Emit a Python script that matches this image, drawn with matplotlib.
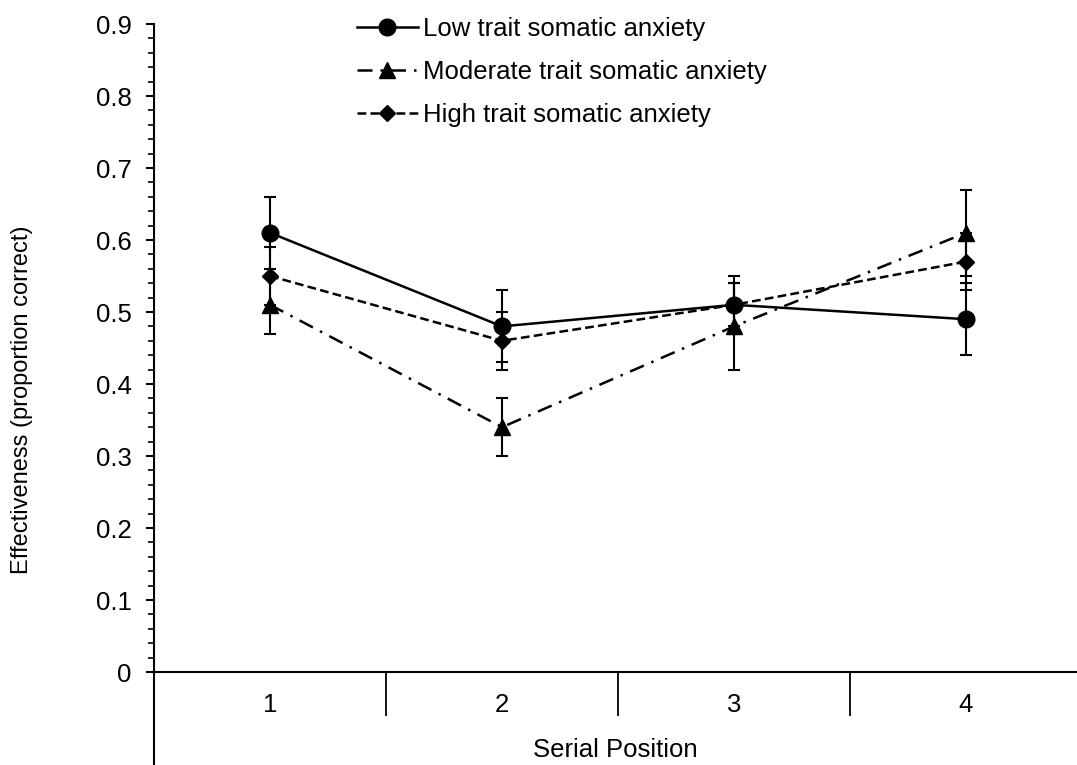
import matplotlib
matplotlib.use("Agg")
import matplotlib.pyplot as plt
from matplotlib.lines import Line2D
from matplotlib.ticker import FixedLocator, NullFormatter, FixedFormatter

plt.rcParams['font.family'] = ['Liberation Sans', 'DejaVu Sans']

# Serial positions and group means with their error-bar half-widths
positions = [1, 2, 3, 4]
position_labels = ["1", "2", "3", "4"]

low_mean = [0.61, 0.48, 0.51, 0.49]
low_err = [0.05, 0.05, 0.04, 0.05]

moderate_mean = [0.51, 0.34, 0.48, 0.61]
moderate_err = [0.04, 0.04, 0.06, 0.06]

high_mean = [0.55, 0.46, 0.51, 0.57]
high_err = [0.04, 0.04, 0.03, 0.04]

series_names = ["Low trait somatic anxiety",
                "Moderate trait somatic anxiety",
                "High trait somatic anxiety"]

W, H, DPI = 1077, 765, 100
FS = 18.5
fig = plt.figure(figsize=(W / DPI, H / DPI), dpi=DPI)

left_px, top_px, zero_px = 154, 24, 672
cat_px = 232.0
ax_w_px = W - left_px
ax = fig.add_axes([left_px / W, 0, ax_w_px / W, (H - top_px) / H])

px_per_unit = (zero_px - top_px) / 0.9
ax.set_ylim(-(H - zero_px) / px_per_unit, 0.9)
ax.set_xlim(0.5, 0.5 + ax_w_px / cat_px)

lw = 1.8
dash_dot = [6.0, 3.2, 1.0, 3.2]
dashed = [3.5, 1.7]
ebar = dict(ecolor='black', elinewidth=1.5, capsize=4.5, capthick=1.5)

styles = [
    dict(marker='o', markersize=12, dashes=None),
    dict(marker='^', markersize=11.5, dashes=dash_dot),
    dict(marker='D', markersize=8.5, dashes=dashed),
]
means = [low_mean, moderate_mean, high_mean]
errs = [low_err, moderate_err, high_err]

handles = []
for i, (m, e, st) in enumerate(zip(means, errs, styles)):
    cont = ax.errorbar(positions, m, yerr=e, color='black', lw=lw,
                       marker=st['marker'], markersize=st['markersize'],
                       zorder=4 if i == 0 else 3, **ebar)
    line = cont.lines[0]
    proxy = Line2D([], [], color='black', lw=lw, marker=st['marker'],
                   markersize=st['markersize'])
    if st['dashes'] is not None:
        line.set_dashes(st['dashes'])
        proxy.set_dashes(st['dashes'])
    handles.append(proxy)

# Spines: left axis runs to the bottom edge, category axis sits at zero
for s in ['top', 'right']:
    ax.spines[s].set_visible(False)
ax.spines['bottom'].set_position(('data', 0))
ax.spines['left'].set_linewidth(1.5)
ax.spines['bottom'].set_linewidth(1.5)

ax.yaxis.set_major_locator(FixedLocator([i / 10 for i in range(10)]))
ax.yaxis.set_minor_locator(FixedLocator([i / 50 for i in range(46) if i % 5]))
ax.set_yticklabels(["0"] + [f"{i / 10:.1f}" for i in range(1, 10)])
ax.tick_params(axis='y', which='major', direction='out', length=6, width=1.5,
               labelsize=FS, pad=10)
ax.tick_params(axis='y', which='minor', direction='out', length=4, width=1.2)

# Category separators as long ticks, labels centred on the categories
ax.xaxis.set_major_locator(FixedLocator([1.5, 2.5, 3.5]))
ax.xaxis.set_major_formatter(NullFormatter())
ax.xaxis.set_minor_locator(FixedLocator(positions))
ax.xaxis.set_minor_formatter(FixedFormatter(position_labels))
ax.tick_params(axis='x', which='major', direction='out', length=32, width=1.3)
ax.tick_params(axis='x', which='minor', length=0, labelsize=FS, pad=15)

fig.text(22 / W, 1 - 400 / H, "Effectiveness (proportion correct)",
         rotation=90, ha='center', va='center', fontsize=17)
fig.text((left_px + ax_w_px / 2) / W, 1 - 750 / H, "Serial Position",
         ha='center', va='center', fontsize=FS)

ax.legend(handles=handles, labels=series_names,
          loc='upper left', bbox_to_anchor=(347 / W, 1 - 7 / H),
          bbox_transform=fig.transFigure, frameon=False, fontsize=FS,
          handlelength=2.35, handletextpad=0.2, labelspacing=0.74,
          numpoints=1, borderaxespad=0)

fig.savefig("out.png", dpi=DPI, facecolor='white')
